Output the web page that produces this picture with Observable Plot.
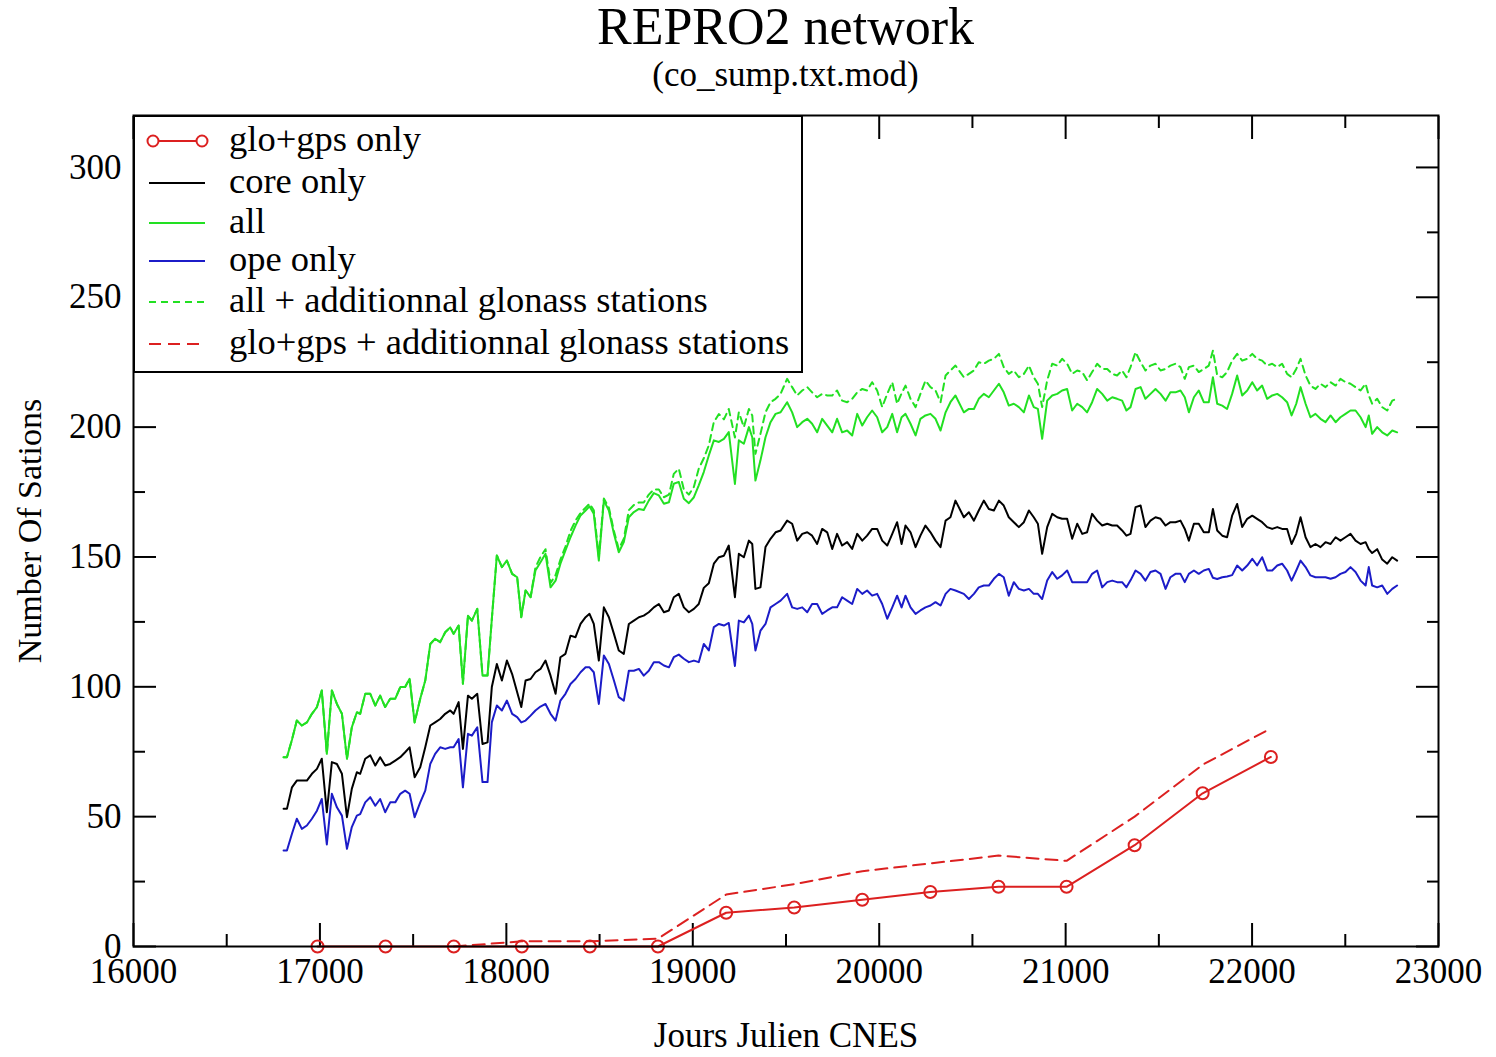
<!DOCTYPE html>
<html>
<head>
<meta charset="utf-8">
<script src="https://cdn.jsdelivr.net/npm/d3@7"></script>
<script src="https://cdn.jsdelivr.net/npm/@observablehq/plot@0.6"></script>
<style>
  body { margin: 0; background: #fff; }
  #wrap { position: relative; width: 1496px; height: 1057px; font-family: "Liberation Serif", "Times New Roman", serif; color: #000; }
  #head { position: relative; height: 95px; }
  #title { position: absolute; left: 133px; width: 1305px; top: 1px; text-align: center; font-size: 52px; line-height: 52px; }
  #subtitle { position: absolute; left: 133px; width: 1305px; top: 57px; text-align: center; font-size: 35px; line-height: 35px; }
  #legend { position: absolute; left: 133px; top: 115px; }
</style>
</head>
<body>
<div id="wrap">
  <div id="head"><div id="title"></div><div id="subtitle"></div></div>
  <div id="chart"></div>
  <div id="legend"></div>
</div>
<script>
// ---------------- texts ----------------
const titleText = "REPRO2 network";
const subtitleText = "(co_sump.txt.mod)";
const xLabel = "Jours Julien CNES";
const yLabel = "Number Of Sations";

// ---------------- tick values ----------------
const xMajor = [16000, 17000, 18000, 19000, 20000, 21000, 22000, 23000];
const xMinor = [16500, 17500, 18500, 19500, 20500, 21500, 22500];
const yMajor = [0, 50, 100, 150, 200, 250, 300];
const yMinor = [25, 75, 125, 175, 225, 275];

// ---------------- legend ----------------
const legendLabels = ["glo+gps only", "core only", "all", "ope only", "all + additionnal glonass stations", "glo+gps + additionnal glonass stations"];
const legendColors = ["#dc2020", "#000000", "#22e022", "#1c1cc8", "#22e022", "#dc2020"];
const legendDash = [null, null, null, null, "7,5", "12,7"];
const legendMarker = [true, false, false, false, false, false];

// ---------------- weekly/monthly series (CNES julian days) ----------------
const days = [
  16805, 16823, 16850, 16876, 16903, 16930, 16957, 16984, 17010, 17037, 17064, 17091, 17118, 17145, 17171, 17198, 17216, 17243, 17270, 17297, 17323, 17350, 17377, 17404, 17431, 17457, 17481, 17508, 17538, 17565, 17592, 17618, 17645, 17672, 17699, 17717, 17744, 17767, 17794, 17815, 17844, 17872, 17899, 17922, 17949, 17976, 18003,
  18031, 18058, 18080, 18103, 18130, 18156, 18183, 18210, 18237, 18264, 18290, 18317, 18344, 18371, 18398, 18425, 18446, 18469, 18496, 18523, 18550, 18577, 18603, 18630, 18657, 18684, 18711, 18737, 18764, 18791, 18818, 18845, 18872, 18898, 18925, 18952, 18979, 19006, 19032, 19059, 19086, 19113, 19140, 19167, 19193,
  19226, 19247, 19274, 19301, 19319, 19336, 19363, 19390, 19417, 19444, 19471, 19506, 19533, 19560, 19587, 19614, 19640, 19667, 19694, 19721, 19748, 19774, 19801, 19828, 19855, 19882, 19909, 19935, 19962, 19989, 20016, 20043, 20070, 20096, 20120, 20141, 20168, 20195, 20221, 20248, 20275, 20302, 20329, 20356, 20382, 20409,
  20454, 20481, 20508, 20534, 20561, 20588, 20615, 20642, 20668, 20695, 20722, 20749, 20776, 20803, 20829, 20851, 20874, 20901, 20928, 20955, 20981, 21008, 21035, 21062, 21089, 21115, 21142, 21169, 21196, 21223, 21250, 21276, 21303, 21326, 21348, 21375, 21402, 21428, 21455, 21482, 21509, 21536, 21562, 21589, 21616,
  21639, 21661, 21688, 21714, 21741, 21768, 21790, 21813, 21840, 21866, 21893, 21920, 21947, 21974, 22001, 22027, 22054, 22081, 22108, 22135, 22161, 22188, 22212, 22237, 22260, 22287, 22313, 22340, 22367, 22394, 22421, 22448, 22474, 22501, 22528, 22555, 22582, 22609, 22626, 22644, 22671, 22698, 22725, 22752, 22778
];

const allStations = [
  72.9, 72.9, 79.6, 87.0, 85.1, 86.3, 89.6, 92.2, 98.6, 74.2, 98.6, 93.4, 89.6, 72.3, 84.4, 90.2, 89.6, 97.3, 97.3, 92.8, 96.6, 92.2, 95.4, 95.4, 99.9, 99.9, 103.1, 86.3, 95.4, 102.4, 116.5, 118.5, 117.2, 121.0, 122.9, 120.4, 123.6, 101.2, 127.4, 125.5, 130.0, 104.4, 104.4, 126.0, 150.6, 146.1, 148.6,
  143.5, 142.2, 126.8, 137.1, 134.5, 144.8, 148.0, 151.2, 138.3, 140.9, 147.4, 152.5, 157.6, 162.1, 166.0, 167.9, 169.5, 166.6, 148.6, 171.7, 167.9, 158.9, 151.8, 155.7, 165.3, 167.3, 168.5, 168.1, 171.7, 174.6, 173.7, 170.5, 171.1, 178.2, 178.9, 172.4, 170.7, 173.0, 177.6, 182.7, 189.1, 194.9, 194.3, 195.5, 198.1,
  178.1, 194.9, 193.6, 200.0, 196.1, 179.4, 187.2, 196.1, 201.9, 205.1, 205.7, 209.6, 205.7, 200.0, 201.9, 203.2, 201.3, 198.0, 203.2, 200.6, 198.0, 203.2, 198.0, 198.7, 196.8, 205.1, 200.6, 203.8, 206.4, 203.8, 198.0, 200.0, 205.1, 198.0, 203.8, 205.1, 201.3, 196.8, 203.2, 204.5, 205.1, 203.2, 198.7, 205.7, 209.6, 212.2,
  205.7, 207.0, 207.0, 210.9, 212.8, 211.5, 214.1, 216.7, 213.4, 208.3, 209.0, 207.7, 205.7, 212.2, 207.7, 207.0, 195.5, 210.2, 212.2, 212.8, 214.1, 214.7, 206.4, 209.0, 207.7, 205.7, 209.6, 214.7, 212.8, 210.2, 211.5, 210.9, 210.2, 206.4, 207.7, 214.7, 215.4, 210.9, 212.8, 214.7, 212.8, 210.2, 213.4, 213.4, 214.1,
  211.5, 205.7, 211.5, 214.1, 209.6, 209.6, 219.2, 209.0, 208.3, 207.0, 212.8, 219.9, 212.2, 214.1, 217.3, 214.1, 216.0, 210.9, 212.2, 212.8, 211.5, 209.6, 204.5, 209.0, 215.4, 209.0, 203.8, 205.1, 203.2, 201.9, 204.5, 201.9, 203.8, 205.1, 206.4, 206.4, 203.8, 200.0, 204.5, 197.4, 200.0, 198.0, 196.8, 198.7, 198.0
];

const allPlusGlonass = [
  72.9, 72.9, 79.6, 87.0, 85.1, 86.3, 89.6, 92.2, 98.6, 74.2, 98.6, 93.4, 89.6, 72.3, 84.4, 90.2, 89.6, 97.3, 97.3, 92.8, 96.6, 92.2, 95.4, 95.4, 99.9, 99.9, 103.1, 86.3, 95.4, 102.4, 116.5, 118.5, 117.2, 121.0, 122.9, 120.4, 123.6, 101.2, 127.4, 125.5, 130.0, 104.4, 104.4, 126.0, 150.6, 146.1, 148.6,
  143.5, 142.2, 126.8, 137.1, 134.5, 146, 150, 153, 140, 143, 149, 154, 160, 164, 167, 169, 170.5, 168, 150, 172.5, 169, 160, 153, 157, 168, 170, 171, 171, 174, 176, 176, 173, 174, 182, 184, 176, 174, 177, 184, 188, 193, 202, 205, 203, 207,
  196, 205.7, 200.0, 207.0, 204.5, 189.7, 197.4, 205.7, 209.6, 210.9, 212.8, 218.6, 215.4, 212.2, 214.1, 215.4, 213.4, 211.5, 212.8, 212.2, 212.2, 214.1, 210.2, 209.6, 210.9, 213.4, 214.7, 214.1, 217.3, 214.1, 207.7, 212.8, 217.3, 209.0, 213.0, 216.0, 210.9, 207.7, 212.8, 217.9, 215.4, 214.1, 209.6, 219.9, 221.8, 223.7,
  219.2, 220.5, 221.8, 225.0, 224.4, 225.6, 226.3, 228.2, 223.1, 220.5, 221.8, 219.2, 220.5, 223.7, 219.2, 216.7, 207.7, 218.0, 224.4, 223.7, 226.3, 224.4, 220.5, 221.8, 221.2, 218.0, 221.2, 224.4, 222.4, 222.4, 220.5, 219.9, 221.8, 219.2, 223.1, 228.9, 225.0, 221.8, 223.7, 224.4, 221.8, 222.4, 223.7, 224.4, 223.1,
  218.6, 223.1, 223.7, 221.2, 222.4, 223.7, 229.5, 219.9, 219.2, 221.2, 225.6, 228.2, 225.6, 226.3, 228.2, 226.3, 225.6, 223.7, 224.4, 223.1, 224.4, 220.5, 219.2, 222.4, 226.3, 219.9, 216.0, 214.7, 216.7, 215.4, 217.3, 216.0, 218.6, 217.3, 216.7, 215.4, 214.1, 216.7, 212.2, 209.0, 210.9, 207.7, 206.4, 210.2, 211.0
];

const coreOnly = [
  53.0, 53.0, 61.3, 63.9, 63.9, 63.9, 66.5, 68.4, 72.3, 51.7, 71.0, 70.3, 66.5, 49.8, 60.7, 67.1, 66.5, 72.3, 73.6, 69.7, 72.9, 69.7, 70.3, 71.6, 72.9, 74.8, 76.7, 65.2, 69.0, 76.7, 85.1, 86.3, 87.6, 89.6, 90.9, 89.6, 94.1, 76.1, 96.6, 95.4, 97.3, 78.0, 78.6, 99.9, 108.8, 102.4, 110.1,
  104.9, 97.9, 92.2, 102.4, 103.0, 105.6, 106.9, 110.1, 104.3, 97.3, 111.4, 112.7, 119.7, 119.1, 124.2, 126.8, 128.1, 124.2, 110.1, 130.6, 126.8, 120.4, 114.0, 112.7, 124.2, 125.5, 126.8, 127.4, 128.7, 130.6, 131.9, 128.7, 129.4, 134.5, 135.8, 130.6, 128.7, 130.0, 131.9, 138.1, 139.9, 147.4, 149.9, 150.5, 154.4,
  134.5, 151.2, 149.9, 156.3, 155.0, 137.7, 138.3, 153.8, 157.0, 159.5, 160.2, 164.0, 162.8, 156.3, 158.9, 159.5, 158.2, 155.0, 160.8, 159.5, 153.1, 158.9, 154.4, 155.7, 153.1, 158.9, 156.3, 158.2, 160.8, 160.8, 156.3, 154.4, 158.9, 163.4, 155.0, 162.1, 159.5, 153.8, 158.2, 162.1, 159.5, 156.3, 153.8, 164.0, 165.3, 171.7,
  165.3, 167.2, 164.0, 167.9, 171.7, 168.5, 167.9, 171.7, 169.8, 165.3, 163.4, 161.5, 163.4, 167.9, 165.3, 162.8, 151.2, 161.5, 166.6, 165.3, 164.7, 164.7, 157.0, 162.8, 158.9, 159.5, 166.6, 164.0, 162.1, 162.8, 162.1, 162.1, 160.2, 158.2, 158.9, 169.2, 169.8, 161.5, 164.0, 165.3, 164.7, 162.1, 163.4, 163.4, 164.0,
  160.8, 156.3, 162.8, 162.8, 159.5, 159.5, 168.5, 160.2, 158.2, 157.6, 165.9, 170.4, 161.5, 164.7, 165.9, 164.7, 163.4, 161.5, 160.8, 161.5, 160.8, 160.8, 155.0, 158.9, 165.3, 157.6, 153.8, 155.0, 153.8, 155.7, 155.0, 157.6, 156.3, 157.6, 158.9, 156.3, 155.0, 155.7, 153.0, 151.5, 153.0, 149.0, 147.4, 149.9, 148.6
];

const opeOnly = [
  37.0, 37.0, 43.4, 49.2, 45.3, 46.6, 49.2, 52.3, 56.8, 39.3, 58.8, 53.6, 50.4, 37.6, 46.0, 50.4, 51.0, 55.5, 57.5, 54.2, 56.8, 51.7, 55.5, 55.5, 58.8, 60.0, 58.8, 49.8, 55.5, 60.0, 70.3, 74.2, 76.7, 76.1, 76.7, 76.7, 79.9, 61.3, 81.9, 81.2, 84.4, 63.3, 63.3, 86.3, 92.8, 90.9, 94.7,
  89.6, 88.3, 86.3, 87.0, 88.9, 90.9, 92.4, 93.4, 89.6, 87.0, 94.7, 97.3, 101.1, 103.0, 105.6, 107.5, 107.5, 105.6, 93.4, 112.1, 108.8, 102.4, 96.0, 94.7, 106.2, 106.2, 106.9, 104.3, 106.2, 109.5, 109.5, 108.2, 107.5, 111.4, 112.4, 110.8, 109.5, 110.1, 109.5, 116.5, 114.0, 123.0, 124.2, 123.6, 124.6,
  108.0, 125.5, 124.8, 127.4, 124.2, 114.0, 121.6, 124.2, 130.6, 131.9, 133.2, 135.8, 130.6, 130.0, 130.6, 128.7, 131.9, 131.9, 128.1, 129.4, 130.6, 130.6, 134.5, 133.2, 131.9, 137.7, 135.8, 137.1, 135.1, 135.8, 131.9, 126.2, 130.6, 135.1, 130.6, 135.1, 130.6, 128.1, 129.4, 130.6, 131.3, 132.6, 131.3, 135.8, 137.7, 137.1,
  135.8, 133.8, 135.8, 138.3, 139.0, 139.0, 141.6, 143.5, 142.2, 135.1, 140.3, 137.7, 137.1, 137.7, 135.8, 135.8, 133.8, 140.9, 144.2, 141.6, 142.9, 144.8, 140.3, 140.3, 140.3, 140.3, 143.5, 144.8, 138.3, 140.3, 140.9, 140.3, 140.3, 138.3, 141.0, 144.8, 143.5, 140.9, 144.2, 144.8, 143.5, 137.7, 142.2, 143.5, 143.5,
  140.3, 143.5, 144.8, 143.5, 144.8, 145.4, 142.0, 141.5, 142.2, 142.5, 143.0, 146.7, 144.8, 146.7, 149.3, 146.7, 149.9, 144.8, 144.8, 146.7, 147.4, 144.8, 140.9, 144.8, 148.6, 146.1, 142.9, 142.2, 142.2, 142.2, 141.6, 142.2, 143.5, 144.2, 146.1, 144.2, 140.9, 139.0, 146.1, 139.0, 138.3, 139.0, 135.8, 137.7, 139.0
];

// ---------------- yearly glo+gps series ----------------
const gloDays = [16987, 17352, 17718, 18083, 18448, 18813, 19179, 19544, 19909, 20274, 20640, 21005, 21370, 21735, 22101];
const gloGpsOnly = [0, 0, 0, 0, 0, 0, 13, 15, 18, 21, 23, 23, 39, 59, 73];
const gloAddDays = [17718, 18083, 18448, 18813, 19179, 19544, 19909, 20274, 20640, 21005, 21370, 21735, 22101];
const gloGpsAdd = [0, 2, 2, 3, 20, 24, 29, 32, 35, 33, 50, 70, 84];

// ---------------- build ----------------
const GREEN = "#22e022", BLUE = "#1c1cc8", RED = "#dc2020", BLACK = "#000000";
const rows = (xs, ys) => xs.map((d, i) => ({day: d, n: ys[i]}));

document.getElementById("title").textContent = titleText;
document.getElementById("subtitle").textContent = subtitleText;

const serif = "Liberation Serif, Times New Roman, serif";
const fmt = d => String(d);
const blank = () => "";

const chart = Plot.plot({
  width: 1496,
  height: 962,
  marginTop: 20,
  marginBottom: 111,
  marginLeft: 133,
  marginRight: 58,
  x: {domain: [16000, 23000]},
  y: {domain: [0, 320]},
  style: {fontFamily: serif, fontSize: "35px", color: "black", background: "white", overflow: "visible"},
  marks: [
    // tick labels
    Plot.axisX(xMajor, {anchor: "bottom", tickSize: 0, tickPadding: 12, tickFormat: fmt, label: null, fontSize: 35}),
    Plot.axisY(yMajor, {anchor: "left", tickSize: 0, tickPadding: 12, tickFormat: fmt, label: null, fontSize: 35}),
    // inward ticks on all four sides
    Plot.axisX(xMajor, {anchor: "bottom", tickSize: -23, tickFormat: blank, label: null, strokeWidth: 2}),
    Plot.axisX(xMinor, {anchor: "bottom", tickSize: -12, tickFormat: blank, label: null, strokeWidth: 2}),
    Plot.axisX(xMajor, {anchor: "top", tickSize: -23, tickFormat: blank, label: null, strokeWidth: 2}),
    Plot.axisX(xMinor, {anchor: "top", tickSize: -12, tickFormat: blank, label: null, strokeWidth: 2}),
    Plot.axisY(yMajor, {anchor: "left", tickSize: -23, tickFormat: blank, label: null, strokeWidth: 2}),
    Plot.axisY(yMinor, {anchor: "left", tickSize: -12, tickFormat: blank, label: null, strokeWidth: 2}),
    Plot.axisY(yMajor, {anchor: "right", tickSize: -23, tickFormat: blank, label: null, strokeWidth: 2}),
    Plot.axisY(yMinor, {anchor: "right", tickSize: -12, tickFormat: blank, label: null, strokeWidth: 2}),
    // axis titles
    Plot.text([xLabel], {frameAnchor: "bottom", dy: 100, text: d => d, fontSize: 35, textAnchor: "middle"}),
    Plot.text([yLabel], {frameAnchor: "left", dx: -103, rotate: -90, text: d => d, fontSize: 34, textAnchor: "middle"}),
    // series
    Plot.line(rows(days, allPlusGlonass), {x: "day", y: "n", stroke: GREEN, strokeWidth: 2, strokeDasharray: "7,5"}),
    Plot.line(rows(days, allStations), {x: "day", y: "n", stroke: GREEN, strokeWidth: 2}),
    Plot.line(rows(days, coreOnly), {x: "day", y: "n", stroke: BLACK, strokeWidth: 2}),
    Plot.line(rows(days, opeOnly), {x: "day", y: "n", stroke: BLUE, strokeWidth: 2}),
    Plot.line(rows(gloAddDays, gloGpsAdd), {x: "day", y: "n", stroke: RED, strokeWidth: 2, strokeDasharray: "12,7"}),
    Plot.line(rows(gloDays, gloGpsOnly), {x: "day", y: "n", stroke: RED, strokeWidth: 2}),
    Plot.dot(rows(gloDays, gloGpsOnly), {x: "day", y: "n", r: 6, stroke: RED, strokeWidth: 2, fill: "none"}),
    Plot.frame({stroke: "black", strokeWidth: 2})
  ]
});
document.getElementById("chart").appendChild(chart);

// ---------------- legend box ----------------
const L = d3.select("#legend").append("svg")
  .attr("width", 670).attr("height", 258)
  .style("display", "block")
  .style("font-family", serif);
L.append("rect").attr("x", 1).attr("y", 1).attr("width", 668).attr("height", 256)
  .attr("fill", "white").attr("stroke", "black").attr("stroke-width", 2);
const rowY = [26, 68, 108, 146, 187, 229];
legendLabels.forEach((lab, i) => {
  const g = L.append("g").attr("transform", `translate(0,${rowY[i]})`);
  g.append("line").attr("x1", 16).attr("x2", 72).attr("y1", 0).attr("y2", 0)
    .attr("stroke", legendColors[i]).attr("stroke-width", 2)
    .attr("stroke-dasharray", legendDash[i]);
  if (legendMarker[i]) {
    [20, 69].forEach(cx => g.append("circle").attr("cx", cx).attr("cy", 0).attr("r", 5.5)
      .attr("fill", "white").attr("stroke", legendColors[i]).attr("stroke-width", 2));
  }
  g.append("text").attr("x", 96).attr("y", 10).attr("font-size", 36.5).attr("fill", "black").text(lab);
});
</script>
</body>
</html>
